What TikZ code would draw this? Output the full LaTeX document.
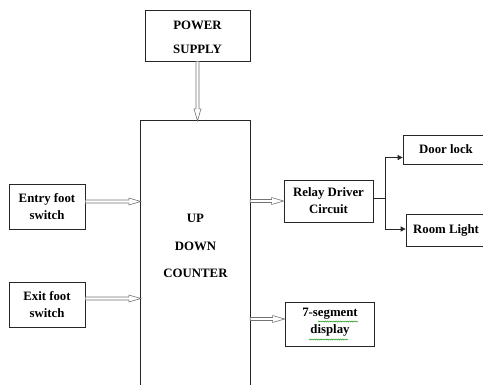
\documentclass[tikz,border=0pt]{standalone}
\usepackage{fontspec}
\setmainfont{Liberation Serif}
\usetikzlibrary{arrows.meta,decorations.pathmorphing}
\begin{document}
\begin{tikzpicture}[x=1pt,y=-1pt,
  blk/.style={draw=black!85, line width=0.7pt, rectangle, inner sep=0pt, align=center,
    font=\bfseries\fontsize{12.8}{17}\selectfont},
  txt/.style={inner sep=0pt, align=center},
  harrow/.style={draw=black!55, line width=0.6pt, fill=white,
    to path={([yshift=-1.5pt]\tikztostart) -- ([xshift=-12pt,yshift=-1.5pt]\tikztotarget)
      -- ([xshift=-12pt,yshift=-3.5pt]\tikztotarget) -- (\tikztotarget)
      -- ([xshift=-12pt,yshift=3.5pt]\tikztotarget) -- ([xshift=-12pt,yshift=1.5pt]\tikztotarget)
      -- ([yshift=1.5pt]\tikztostart) -- cycle}},
  varrow/.style={draw=black!55, line width=0.6pt, fill=white,
    to path={([xshift=-1.5pt]\tikztostart) -- ([xshift=-1.5pt,yshift=12pt]\tikztotarget)
      -- ([xshift=-3.5pt,yshift=12pt]\tikztotarget) -- (\tikztotarget)
      -- ([xshift=3.5pt,yshift=12pt]\tikztotarget) -- ([xshift=1.5pt,yshift=12pt]\tikztotarget)
      -- ([xshift=1.5pt]\tikztostart) -- cycle}},
  branch/.style={draw=black!85, line width=0.7pt},
  tip/.style={branch, -{Triangle[length=5pt,width=5pt]}},
  squiggle/.style={draw=green!55!black, line width=0.4pt, decorate,
    decoration={snake, amplitude=0.6pt, segment length=2.2pt}},
]
\useasboundingbox (0,0) rectangle (483,384);
\clip (0,0) rectangle (483,384);

\node[blk, minimum width=105pt, minimum height=51pt] (power) at (197.5,35.5) {};
\node[txt, font=\bfseries\fontsize{12.8}{24}\selectfont] (ptext) at (197.5,37.5) {POWER\\SUPPLY};
\node[rectangle, inner sep=0pt, minimum width=109pt, minimum height=280pt] (counter) at (195.5,261) {};
\draw[draw=black!85, line width=0.7pt] (counter.south west) -- (counter.north west)
  -- (counter.north east) -- (counter.south east);
\node[txt, font=\bfseries\fontsize{12.8}{27.5}\selectfont] (ctext) at (195.5,246) {UP\\DOWN\\COUNTER};

\node[blk, minimum width=76pt, minimum height=45pt] (entry) at (47,206.5) {Entry foot\\switch};
\node[blk, minimum width=76pt, minimum height=45pt] (exit) at (47,304.5) {Exit foot\\switch};
\node[blk, minimum width=89pt, minimum height=42pt] (relay) at (328.5,201) {Relay Driver\\Circuit};
\node[blk, minimum width=86pt, minimum height=29pt] (door) at (446,149.5) {Door lock};
\node[blk, minimum width=80pt, minimum height=32pt] (room) at (446,230) {Room Light};
\node[blk, minimum width=89pt, minimum height=44pt] (seg) at (329.5,324) {};
\node[txt, font=\bfseries\fontsize{12.8}{16.5}\selectfont] (stext) at (330,322) {7-segment\\display};

\draw[varrow] (power.south) to (power.south |- counter.north);
\draw[harrow] ([yshift=5pt]entry.east) to ([yshift=5pt]entry.east -| counter.west);
\draw[harrow] ([yshift=6pt]exit.east) to ([yshift=6pt]exit.east -| counter.west);
\draw[harrow] (relay.west -| counter.east) to (relay.west);
\draw[harrow] ([yshift=5pt]seg.west -| counter.east) to ([yshift=5pt]seg.west);

\draw[branch] ([yshift=3pt]relay.east) -- ++(12,0) coordinate (br);
\draw[tip] (br) |- ([yshift=-8pt]door.west);
\draw[tip] (br) |- ([yshift=1pt]room.west);

\draw[squiggle] (318,321.5) -- (358,321.5);
\draw[squiggle] (309,339.5) -- (348,339.5);
\end{tikzpicture}
\end{document}
